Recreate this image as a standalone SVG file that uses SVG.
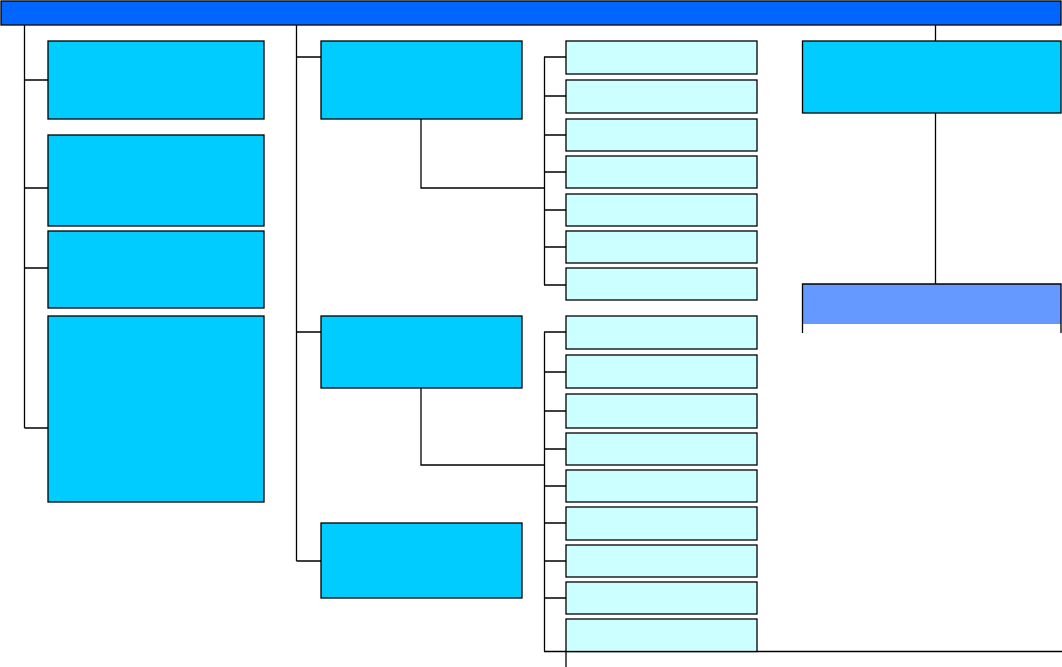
<svg xmlns="http://www.w3.org/2000/svg" width="1062" height="667" viewBox="0 0 1062 667">
<style>
.ln{stroke:#000;stroke-width:1.3;fill:none}
.bx{stroke:#000;stroke-width:1.3}
.mid{fill:#00CCFF}
.lt{fill:#CCFFFF}
</style>
<rect width="1062" height="667" fill="#fff"/>
<g id="header"><rect class="bx" x="1" y="1" width="1060" height="24" fill="#0066FF"/></g>
<g id="connectors">
<path class="ln" d="M24.5 25V428M24.5 80H48M24.5 188H48M24.5 268H48M24.5 428H48"/>
<path class="ln" d="M296.5 25V561M296.5 57H321M296.5 332H321M296.5 561H321"/>
<path class="ln" d="M421 119V188H544M544.5 57V285M544 57H566M544 96H566M544 135H566M544 172H566M544 210H566M544 247H566M544 285H566"/>
<path class="ln" d="M421 388V465H544M544.5 332V651.5M544 332H566M544 372H566M544 411H566M544 449H566M544 486H566M544 523H566M544 561H566M544 598H566M544 651.5H1062M566 651.5V667"/>
<path class="ln" d="M935.5 25V41M935.5 113V284M802.5 324V333M1061 324V333"/>
</g>
<g id="left1"><rect class="bx mid" x="48" y="41" width="216" height="78"/></g>
<g id="left2"><rect class="bx mid" x="48" y="135" width="216" height="91"/></g>
<g id="left3"><rect class="bx mid" x="48" y="231" width="216" height="77"/></g>
<g id="left4"><rect class="bx mid" x="48" y="316" width="216" height="186"/></g>
<g id="midA"><rect class="bx mid" x="321" y="41" width="201" height="78"/></g>
<g id="midB"><rect class="bx mid" x="321" y="316" width="201" height="72"/></g>
<g id="midC"><rect class="bx mid" x="321" y="523" width="201" height="75"/></g>
<g id="a1"><rect class="bx lt" x="566" y="41" width="191" height="33"/></g>
<g id="a2"><rect class="bx lt" x="566" y="80" width="191" height="33"/></g>
<g id="a3"><rect class="bx lt" x="566" y="119" width="191" height="32"/></g>
<g id="a4"><rect class="bx lt" x="566" y="156" width="191" height="32"/></g>
<g id="a5"><rect class="bx lt" x="566" y="194" width="191" height="32"/></g>
<g id="a6"><rect class="bx lt" x="566" y="231" width="191" height="32"/></g>
<g id="a7"><rect class="bx lt" x="566" y="268" width="191" height="32"/></g>
<g id="b1"><rect class="bx lt" x="566" y="316" width="191" height="33"/></g>
<g id="b2"><rect class="bx lt" x="566" y="355" width="191" height="33"/></g>
<g id="b3"><rect class="bx lt" x="566" y="394" width="191" height="34"/></g>
<g id="b4"><rect class="bx lt" x="566" y="433" width="191" height="32"/></g>
<g id="b5"><rect class="bx lt" x="566" y="470" width="191" height="32"/></g>
<g id="b6"><rect class="bx lt" x="566" y="507" width="191" height="33"/></g>
<g id="b7"><rect class="bx lt" x="566" y="545" width="191" height="32"/></g>
<g id="b8"><rect class="bx lt" x="566" y="582" width="191" height="32"/></g>
<g id="b9"><rect class="bx lt" x="566" y="619" width="191" height="32.5"/></g>
<g id="rightD"><rect class="bx mid" x="802.5" y="41" width="258.5" height="72"/></g>
<g id="rightE"><rect x="802.5" y="284" width="258.5" height="40" fill="#6699FF"/><path class="ln" d="M802.5 324V284H1061V324"/></g>
</svg>
